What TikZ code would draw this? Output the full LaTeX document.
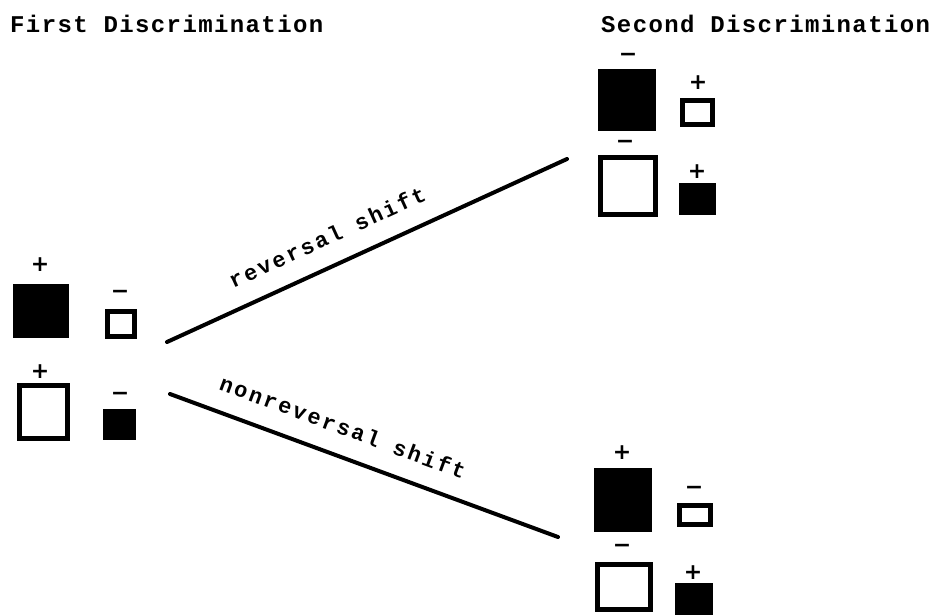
\documentclass[tikz,border=0pt]{standalone}
\usepackage{fontspec}
\newfontfamily\titlefont[LetterSpace=5.8]{Liberation Mono}
\newfontfamily\labelfont[LetterSpace=10.9]{Liberation Mono}
\newfontfamily\signfont{DejaVu Sans}
\usetikzlibrary{positioning}

\tikzset{
  title/.style={anchor=base west, inner sep=0pt, font=\titlefont\bfseries\fontsize{24}{28}\selectfont},
  shiftlabel/.style={sloped, anchor=base, inner sep=0pt, font=\labelfont\bfseries\fontsize{22}{26}\selectfont},
  shiftline/.style={line width=4pt, line cap=round},
  fillbox/.style={fill=black, inner sep=0pt},
  hollowbox/.style={draw=black, line width=5pt, inner sep=0pt},
  sign/.style={inner sep=0pt, font=\signfont\bfseries\fontsize{22}{22}\selectfont}
}

\begin{document}
\begin{tikzpicture}[x=1pt, y=-1pt]
	\useasboundingbox (0,0) rectangle (945,615);

	% titles
	\node[title] (firsttitle)  at (10,33)  {First Discrimination};
	\node[title] (secondtitle) at (601,33) {Second Discrimination};

	% first discrimination
	\node[fillbox, minimum width=56pt, minimum height=54pt]   (firstA)  at (41,311)    {};
	\node[hollowbox, minimum width=27pt, minimum height=25pt] (firstB)  at (121,324)   {};
	\node[hollowbox, minimum width=48pt, minimum height=53pt] (firstC)  at (43.5,412)  {};
	\node[fillbox, minimum width=33pt, minimum height=31pt]   (firstD)  at (119.5,424.5) {};
	\node[sign] (firstAsign) at (40,265)  {+};
	\node[sign] (firstBsign) at (120,294) {−};
	\node[sign] (firstCsign) at (40,372)  {+};
	\node[sign] (firstDsign) at (120,396) {−};

	% second discrimination, reversal
	\node[fillbox, minimum width=58pt, minimum height=62pt]   (revA) at (627,100)   {};
	\node[hollowbox, minimum width=30pt, minimum height=24pt] (revB) at (697.5,112.5) {};
	\node[hollowbox, minimum width=55pt, minimum height=57pt] (revC) at (628,186)   {};
	\node[fillbox, minimum width=37pt, minimum height=32pt]   (revD) at (697.5,199) {};
	\node[sign] (revAsign) at (628,57)  {−};
	\node[sign] (revBsign) at (698,83)  {+};
	\node[sign] (revCsign) at (625,144) {−};
	\node[sign] (revDsign) at (697,172) {+};

	% second discrimination, nonreversal
	\node[fillbox, minimum width=58pt, minimum height=64pt]   (nonA) at (623,500) {};
	\node[hollowbox, minimum width=31pt, minimum height=19pt] (nonB) at (695,515) {};
	\node[hollowbox, minimum width=53pt, minimum height=45pt] (nonC) at (624,587) {};
	\node[fillbox, minimum width=38pt, minimum height=32pt]   (nonD) at (694,599) {};
	\node[sign] (nonAsign) at (622,453) {+};
	\node[sign] (nonBsign) at (694,490) {−};
	\node[sign] (nonCsign) at (622,548) {−};
	\node[sign] (nonDsign) at (693,573) {+};

	% shifts
	\coordinate (revstart) at (167,342);
	\coordinate (revend)   at (567,159);
	\coordinate (nonstart) at (170,394);
	\coordinate (nonend)   at (558,537);

	\draw[shiftline] (revstart) -- node[shiftlabel, pos=0.43, yshift=21pt] (revlabel) {reversal shift} (revend);
	\draw[shiftline] (nonstart) -- node[shiftlabel, pos=0.42, yshift=21pt] (nonlabel) {nonreversal shift} (nonend);
\end{tikzpicture}
\end{document}
